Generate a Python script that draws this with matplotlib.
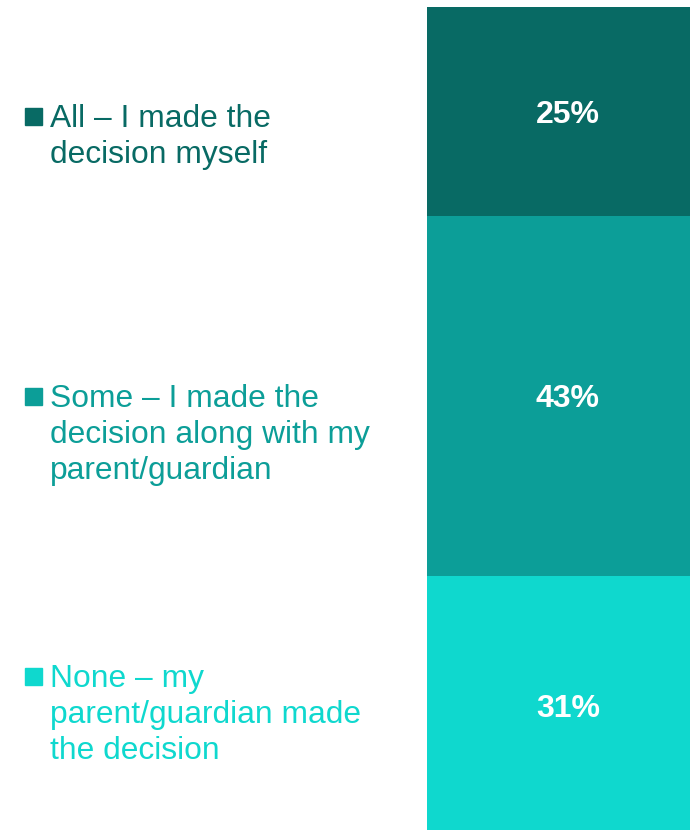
import matplotlib
matplotlib.use('agg')
import matplotlib.pyplot as plt
from matplotlib.patches import Rectangle

# data, bottom to top of the stacked bar
categories = ['None', 'Some', 'All']
values = [31, 43, 25]
labels = [
    'None \u2013 my\nparent/guardian made\nthe decision',
    'Some \u2013 I made the\ndecision along with my\nparent/guardian',
    'All \u2013 I made the\ndecision myself',
]
colors = ['#0fd8ce', '#0c9e98', '#086a64']

plt.rcParams['font.family'] = ['Liberation Sans', 'DejaVu Sans']

W, H = 690, 830
fig = plt.figure(figsize=(W / 100, H / 100), dpi=100)

# bar axes: runs past the right and bottom edges of the figure, like the original
left_px, right_px, top_px, bottom_px = 427, 709, 7, 835
ax = fig.add_axes([left_px / W, (H - bottom_px) / H,
                   (right_px - left_px) / W, (bottom_px - top_px) / H])
bottom = 0
for val, col in zip(values, colors):
    ax.bar(0, val, bottom=bottom, width=1.0, color=col, linewidth=0)
    ax.text(0, bottom + val / 2, '%d%%' % val, ha='center', va='center_baseline',
            color='white', fontsize=23, fontweight='bold')
    bottom += val
ax.set_xlim(-0.5, 0.5)
ax.set_ylim(0, sum(values))
ax.axis('off')

# legend-like labels on the left (first line centre, in pixels from top)
label_y = [677, 397, 117]
for lab, col, y in zip(labels, colors, label_y):
    fig.patches.append(Rectangle((25 / W, 1 - (y + 8) / H), 17 / W, 17 / H,
                                 transform=fig.transFigure, color=col))
    fig.text(50 / W, 1 - (y - 13) / H, lab, ha='left', va='top',
             color=col, fontsize=22.9, linespacing=1.26)

fig.savefig('out.png', dpi=100)
